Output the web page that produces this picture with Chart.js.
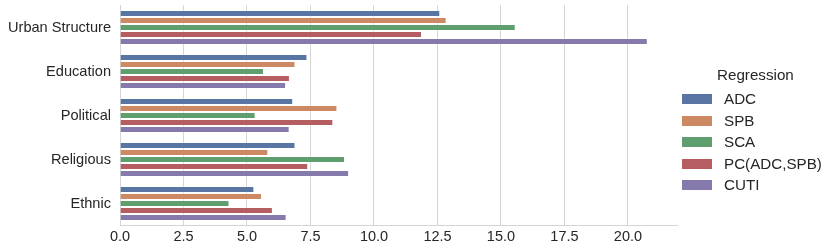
<!DOCTYPE html>
<html>
<head>
<meta charset="utf-8">
<script src="https://cdn.jsdelivr.net/npm/chart.js@4/dist/chart.umd.min.js"></script>
<style>
  html, body { margin: 0; padding: 0; background: #fff; }
  #wrap { position: relative; width: 830px; height: 249px; }
  #legend {
    position: absolute; left: 682px; top: 67px;
    font-family: "Liberation Sans", Arial, sans-serif; font-size: 15.2px; color: #262626;
  }
  #legend .title { position: absolute; left: 35px; top: -1px; white-space: nowrap; }
  #legend .item { position: absolute; left: 0; height: 18px; white-space: nowrap; }
  #legend .swatch { position: absolute; left: 0; top: 4px; width: 30px; height: 10px; }
  #legend .label { position: absolute; left: 42px; top: 0; line-height: 18px; }
</style>
</head>
<body>
<div id="wrap">
  <canvas id="chart" width="830" height="249"></canvas>
  <div id="legend"></div>
</div>
<script>
// categories & series
const categories = ['Urban Structure', 'Education', 'Political', 'Religious', 'Ethnic'];
const seriesNames = ['ADC', 'SPB', 'SCA', 'PC(ADC,SPB)', 'CUTI'];
const adc  = [12.61, 7.38, 6.82, 6.91, 5.29];
const spb  = [12.86, 6.91, 8.56, 5.84, 5.59];
const sca  = [15.58, 5.67, 5.34, 8.86, 4.31];
const pc   = [11.89, 6.69, 8.40, 7.41, 6.02];
const cuti = [20.78, 6.54, 6.68, 9.02, 6.56];
const xTicks = [0, 2.5, 5, 7.5, 10, 12.5, 15, 17.5, 20];
const legendTitle = 'Regression';

const colors = ['#5975a4', '#cc8963', '#5f9e6e', '#b55d60', '#857aab'];
const seriesValues = [adc, spb, sca, pc, cuti];
const FONT = '"Liberation Sans", Arial, sans-serif';

const datasets = seriesNames.map((name, i) => ({
  label: name,
  data: seriesValues[i],
  backgroundColor: colors[i],
  borderColor: 'rgba(255,255,255,0.35)',
  borderWidth: 1,
  categoryPercentage: 0.8,
  barPercentage: 1.0
}));

new Chart(document.getElementById('chart'), {
  type: 'bar',
  data: { labels: categories, datasets },
  options: {
    indexAxis: 'y',
    responsive: false,
    animation: false,
    layout: { padding: { top: 5.5, right: 153, left: 0, bottom: 0 } },
    plugins: { legend: { display: false }, tooltip: { enabled: false } },
    scales: {
      x: {
        type: 'linear',
        min: 0,
        max: 21.93,
        afterBuildTicks: (scale) => { scale.ticks = xTicks.map(v => ({ value: v })); },
        afterFit: (scale) => { scale.height = 23.5; scale.paddingLeft = 0; scale.paddingRight = 0; },
        ticks: {
          font: { family: FONT, size: 14.5 },
          color: '#262626',
          padding: 3,
          callback: (v) => Number(v).toFixed(1)
        },
        grid: { color: '#d4d4d4', lineWidth: 1, drawTicks: false },
        border: { color: '#d4d4d4', width: 1 }
      },
      y: {
        afterFit: (scale) => { scale.width = 120; scale.paddingTop = 0; scale.paddingBottom = 0; },
        ticks: {
          font: { family: FONT, size: 14.6 },
          color: '#262626',
          padding: 9
        },
        grid: { display: false, drawTicks: false },
        border: { color: '#d4d4d4', width: 1 }
      }
    }
  }
});

// legend
const legend = document.getElementById('legend');
let html = `<div class="title">${legendTitle}</div>`;
seriesNames.forEach((name, i) => {
  html += `<div class="item" style="top:${23 + i * 21.5}px"><span class="swatch" style="background:${colors[i]}"></span><span class="label">${name}</span></div>`;
});
legend.innerHTML = html;
</script>
</body>
</html>
